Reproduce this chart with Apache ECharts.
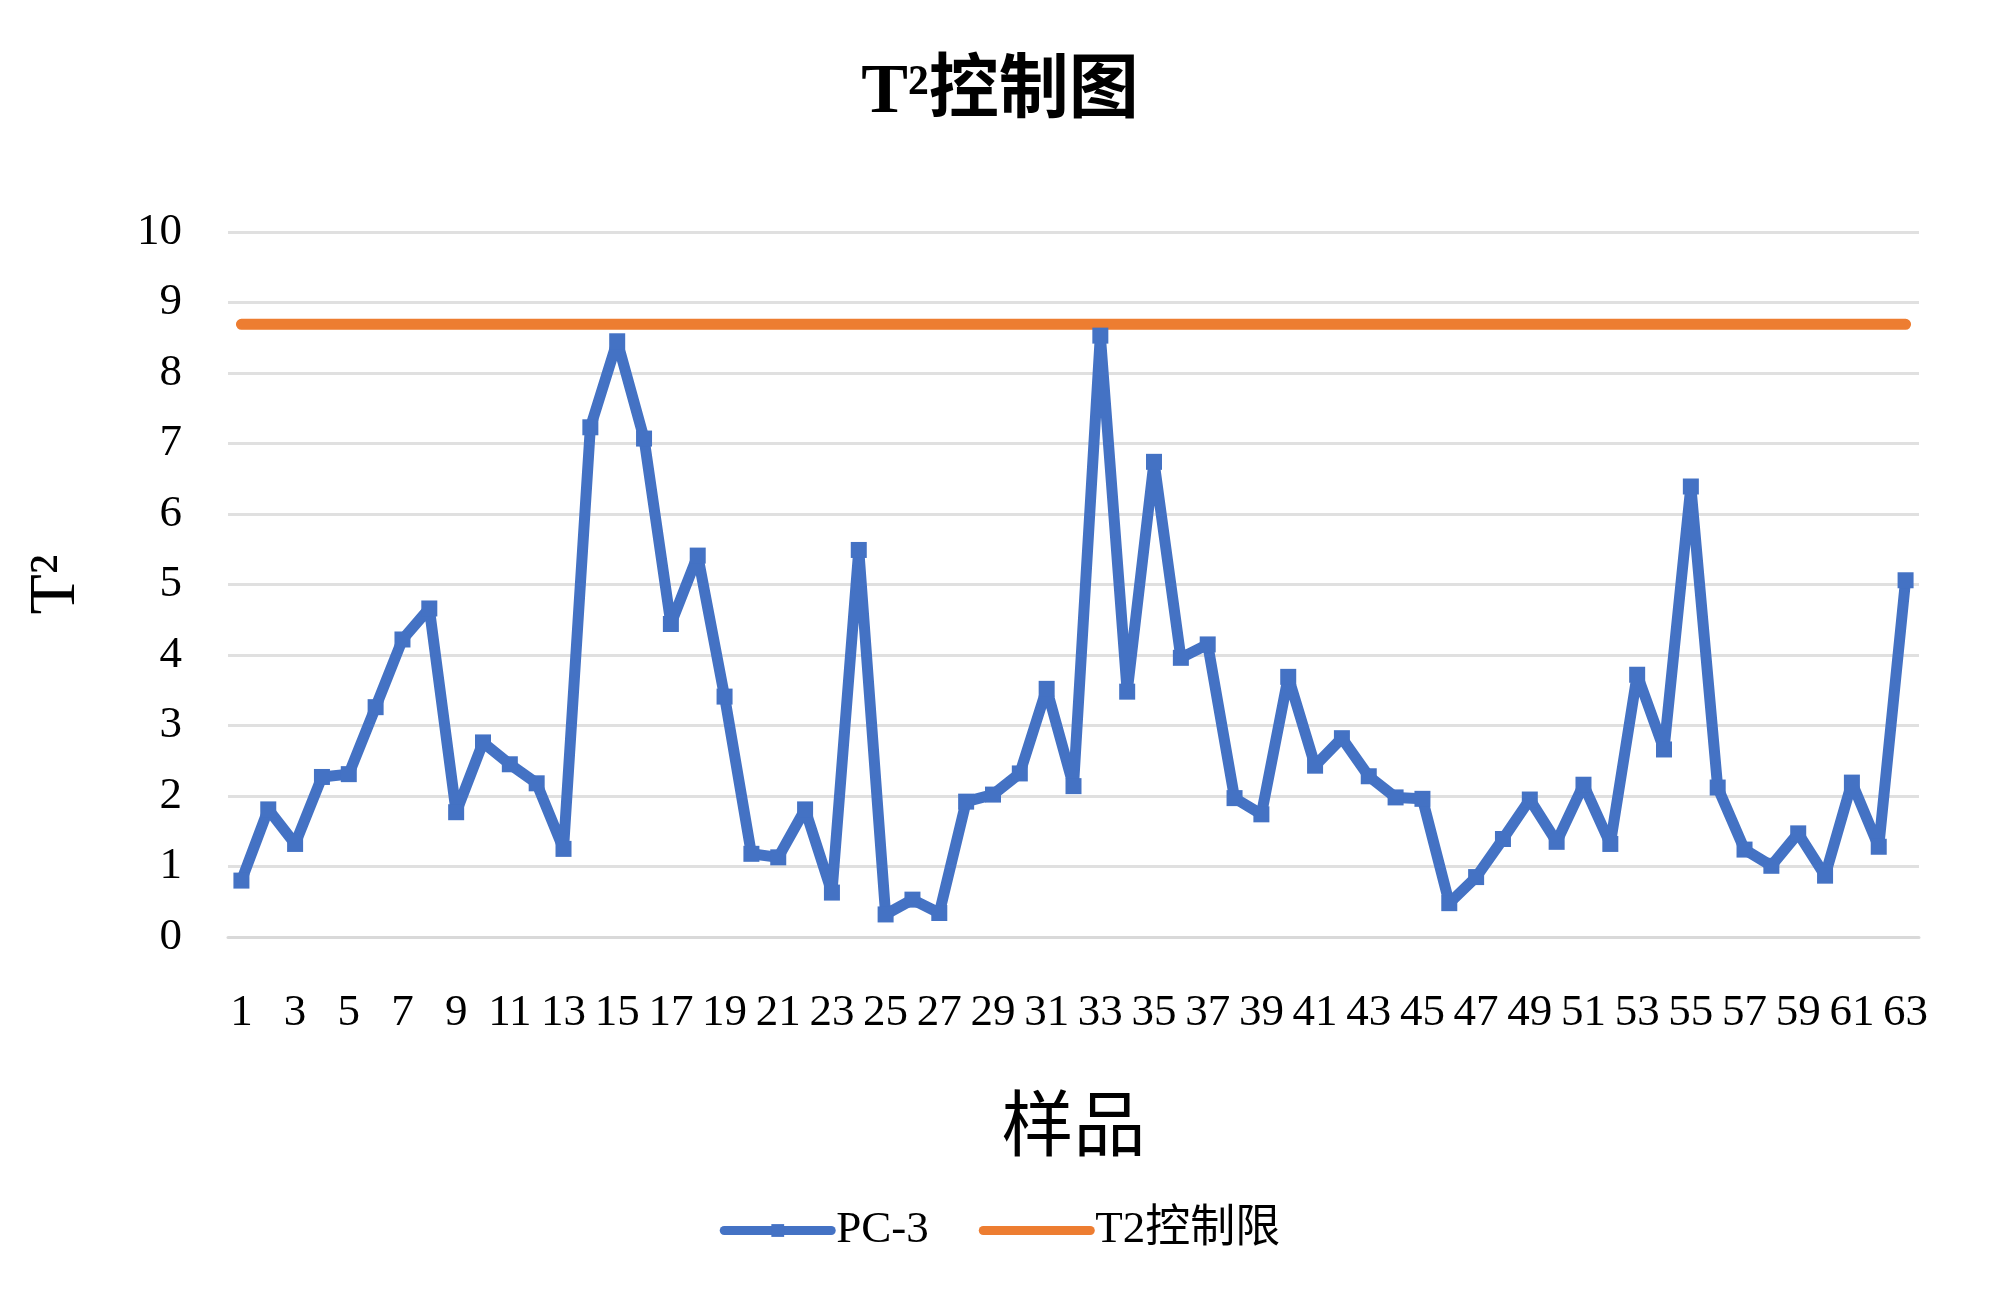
<!DOCTYPE html>
<html>
<head>
    <meta charset="utf-8">
    <title>T2控制图</title>
    <script src="https://cdn.jsdelivr.net/npm/echarts@6/dist/echarts.min.js"></script>
</head>
<body style="margin:0">
    <div id="main" style="width: 2000px;height:1309px;"></div>
    <script type="text/javascript">
        // 样品编号
        const samples = ['1','2','3','4','5','6','7','8','9','10','11','12','13','14','15','16','17','18','19','20','21',
            '22','23','24','25','26','27','28','29','30','31','32','33','34','35','36','37','38','39','40','41','42',
            '43','44','45','46','47','48','49','50','51','52','53','54','55','56','57','58','59','60','61','62','63']
        // PC-3 的 T2 值
        const pc3 = [0.80, 1.81, 1.32, 2.27, 2.31, 3.26, 4.22, 4.66, 1.77, 2.76, 2.45, 2.18, 1.25, 7.23, 8.45, 7.07,
            4.44, 5.41, 3.41, 1.18, 1.13, 1.81, 0.63, 5.49, 0.32, 0.53, 0.34, 1.92, 2.02, 2.32, 3.52, 2.14, 8.53,
            3.48, 6.74, 3.96, 4.15, 1.97, 1.74, 3.69, 2.43, 2.82, 2.28, 1.98, 1.96, 0.48, 0.85, 1.39, 1.95, 1.35,
            2.16, 1.32, 3.72, 2.66, 6.39, 2.12, 1.24, 1.01, 1.47, 0.87, 2.19, 1.28, 5.06]
        // T2 控制限
        const limit = [8.69, 8.69, 8.69, 8.69, 8.69, 8.69, 8.69, 8.69, 8.69, 8.69, 8.69, 8.69, 8.69, 8.69, 8.69,
            8.69, 8.69, 8.69, 8.69, 8.69, 8.69, 8.69, 8.69, 8.69, 8.69, 8.69, 8.69, 8.69, 8.69, 8.69, 8.69, 8.69,
            8.69, 8.69, 8.69, 8.69, 8.69, 8.69, 8.69, 8.69, 8.69, 8.69, 8.69, 8.69, 8.69, 8.69, 8.69, 8.69, 8.69,
            8.69, 8.69, 8.69, 8.69, 8.69, 8.69, 8.69, 8.69, 8.69, 8.69, 8.69, 8.69, 8.69, 8.69]

        const font = '"Liberation Serif", "Times New Roman", "Noto Sans CJK SC", serif'

        let myChart = echarts.init(document.getElementById('main'))

        let option = {
            backgroundColor: '#fff',
            textStyle: { fontFamily: font, color: '#000' },
            title: {
                text: 'T²控制图',
                left: 'center',
                top: 54,
                textStyle: { fontFamily: font, fontSize: 70, fontWeight: 'bold', color: '#000' }
            },
            legend: {
                data: ['PC-3', { name: 'T2控制限', itemStyle: { opacity: 0 } }],
                left: 'center',
                top: 1203,
                itemWidth: 107,
                itemHeight: 16,
                itemGap: 50,
                lineStyle: { width: 9 },
                textStyle: { fontFamily: font, fontSize: 45, color: '#000' }
            },
            grid: { left: 228, right: 81, top: 232, bottom: 372 },
            xAxis: {
                type: 'category',
                data: samples,
                boundaryGap: true,
                name: '样品',
                nameLocation: 'middle',
                nameGap: 158,
                nameTextStyle: { fontFamily: font, fontSize: 72, color: '#000' },
                axisLine: { lineStyle: { color: '#d9d9d9', width: 3 } },
                axisTick: { show: false },
                axisLabel: { interval: 1, margin: 54, fontSize: 45, color: '#000', fontFamily: font }
            },
            yAxis: {
                type: 'value',
                min: 0,
                max: 10,
                interval: 1,
                name: 'T²',
                nameLocation: 'middle',
                nameGap: 138,
                nameTextStyle: { fontFamily: font, fontSize: 66, color: '#000' },
                axisLine: { show: false },
                axisTick: { show: false },
                axisLabel: { margin: 46, fontSize: 45, color: '#000', fontFamily: font },
                splitLine: { lineStyle: { color: '#e0e0e0', width: 3 } }
            },
            series: [
                {
                    name: 'PC-3',
                    type: 'line',
                    data: pc3,
                    symbol: 'rect',
                    symbolSize: 16,
                    color: '#4472C4',
                    lineStyle: { width: 11, color: '#4472C4', cap: 'round', join: 'round' },
                    itemStyle: { color: '#4472C4' },
                    animation: false,
                    z: 3
                },
                {
                    name: 'T2控制限',
                    type: 'line',
                    data: limit,
                    symbol: 'none',
                    color: '#ED7D31',
                    lineStyle: { width: 11, color: '#ED7D31', cap: 'round' },
                    animation: false,
                    z: 2
                }
            ]
        }

        myChart.setOption(option)
    </script>
</body>
</html>
